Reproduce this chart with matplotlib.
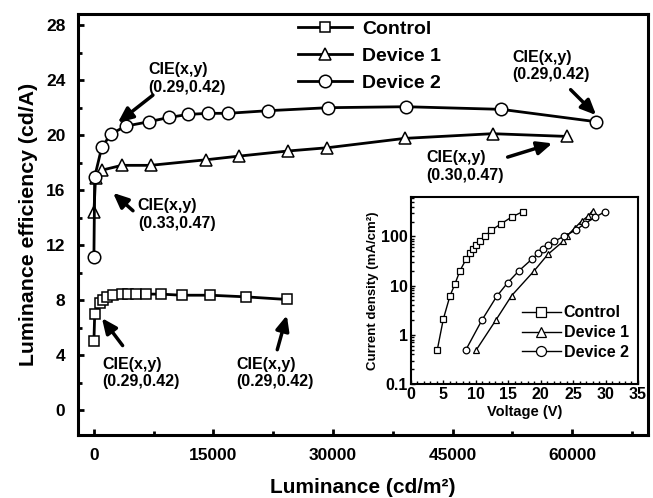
import numpy as np
import matplotlib
matplotlib.use("Agg")
import matplotlib.pyplot as plt
from matplotlib.ticker import MultipleLocator, FixedLocator, FixedFormatter

plt.rcParams['font.family'] = ['Liberation Sans', 'DejaVu Sans']
plt.rcParams['font.weight'] = 'bold'
plt.rcParams['axes.labelweight'] = 'bold'

# Eficiencia de luminancia vs luminancia (grafica principal)
lum_control = [0, 100, 750, 1200, 1700, 2400, 3500, 4300, 5300, 6500, 8400,
               11000, 14600, 19100, 24200]
ef_control = [5.0, 7.0, 7.76, 8.0, 8.24, 8.36, 8.44, 8.44, 8.44, 8.44, 8.44,
              8.36, 8.36, 8.24, 8.05]

lum_dev1 = [0, 200, 1000, 3500, 7100, 14000, 18200, 24300, 29300, 39000,
            50000, 59400]
ef_dev1 = [14.4, 16.85, 17.45, 17.8, 17.8, 18.2, 18.47, 18.84, 19.08, 19.76,
           20.1, 19.9]

lum_dev2 = [0, 100, 1000, 2200, 4000, 6900, 9400, 11800, 14300, 16800, 21800,
            29400, 39100, 51100, 63000]
ef_dev2 = [11.15, 16.97, 19.15, 20.1, 20.65, 20.97, 21.28, 21.5, 21.58, 21.58,
           21.77, 21.99, 22.06, 21.87, 20.97]

# Densidad de corriente vs voltaje (recuadro)
v_control = [4.06, 4.99, 6.0, 6.8, 7.55, 8.48, 9.1, 9.6, 10.1, 10.6, 11.4,
             12.4, 13.9, 15.5, 17.2]
j_control = [0.5, 2.1, 6.1, 11, 20, 34, 45, 56, 66, 80, 100, 134, 180, 246, 316]

v_dev1 = [10.1, 13.1, 15.5, 19.0, 21.1, 23.5, 24.0, 25.3, 26.3, 27.3, 28.0]
j_dev1 = [0.5, 2, 6.2, 20, 43, 80, 100, 150, 204, 257, 335]

v_dev2 = [8.48, 10.95, 13.2, 14.9, 16.65, 18.6, 19.6, 20.3, 21.2, 22.1, 23.6,
          25.4, 26.8, 28.4, 29.9]
j_dev2 = [0.5, 2, 6, 11.4, 20, 34, 45, 56, 66, 80, 100, 134, 180, 246, 316]

nombres = ["Control", "Device 1", "Device 2"]
marcadores = ["s", "^", "o"]

# Anotaciones CIE: (texto_x, texto_y, cola_x, cola_y, punta_x, punta_y, texto)
anotaciones = [
    (6770, 25.3, 7400, 22.9, 3000, 20.9, "CIE(x,y)\n(0.29,0.42)"),
    (5500, 15.4, 4900, 14.5, 2400, 15.8, "CIE(x,y)\n(0.33,0.47)"),
    (52500, 26.2, 59800, 23.3, 63000, 21.45, "CIE(x,y)\n(0.29,0.42)"),
    (41700, 18.9, 51900, 18.4, 57500, 19.4, "CIE(x,y)\n(0.30,0.47)"),
    (1000, 3.9, 3600, 4.7, 1000, 6.7, "CIE(x,y)\n(0.29,0.42)"),
    (17900, 3.9, 23000, 4.4, 24200, 6.9, "CIE(x,y)\n(0.29,0.42)"),
]

fig = plt.figure(figsize=(6.53, 4.98), dpi=100)
ax = fig.add_axes([0.1194, 0.1265, 0.8729, 0.8454])

datos = [(lum_control, ef_control), (lum_dev1, ef_dev1), (lum_dev2, ef_dev2)]
tamanos = [7.5, 8.5, 9]
for (x, y), nombre, m, ms in zip(datos, nombres, marcadores, tamanos):
    ax.plot(x, y, color='black', lw=2, marker=m, ms=ms, mfc='white',
            mec='black', mew=1.1, label=nombre)

ax.set_xlim(-2000, 69500)
ax.set_ylim(-1.8, 28.8)
ax.xaxis.set_major_locator(MultipleLocator(15000))
ax.xaxis.set_minor_locator(MultipleLocator(7500))
ax.yaxis.set_major_locator(MultipleLocator(4))
ax.yaxis.set_minor_locator(MultipleLocator(2))
ax.tick_params(which='both', direction='in', width=2, labelsize=12.5)
ax.tick_params(which='major', length=4)
ax.tick_params(which='minor', length=3)
ax.tick_params(axis='x', pad=9)
ax.tick_params(axis='y', pad=9)
for s in ax.spines.values():
    s.set_linewidth(2.2)

ax.set_xlabel("Luminance (cd/m²)", fontsize=15, labelpad=11)
ax.set_ylabel("Luminance efficiency (cd/A)", fontsize=15.3, labelpad=6)

ax.legend(loc='upper left', bbox_to_anchor=(0.386, 0.985), frameon=False,
          fontsize=14, handlelength=2.8, handletextpad=0.5, borderpad=0,
          borderaxespad=0, labelspacing=0.48)

for tx, ty, cx, cy, px, py, texto in anotaciones:
    ax.text(tx, ty, texto, fontsize=11.5, ha='left', va='top', linespacing=1.2)
    ax.annotate('', xy=(px, py), xytext=(cx, cy),
                arrowprops=dict(arrowstyle='-|>,head_length=0.9,head_width=0.4',
                                color='black', lw=2.5, shrinkA=0, shrinkB=0))

# Recuadro
ins = fig.add_axes([0.6294, 0.2289, 0.3476, 0.3755])
datos_ins = [(v_control, j_control), (v_dev1, j_dev1), (v_dev2, j_dev2)]
for (x, y), nombre, m in zip(datos_ins, nombres, marcadores):
    ins.plot(x, y, color='black', lw=1, marker=m, ms=4.8, mfc='white',
             mec='black', mew=0.9, label=nombre)
ins.set_yscale('log')
ins.set_xlim(0, 35)
ins.set_ylim(0.1, 630)
ins.xaxis.set_major_locator(MultipleLocator(5))
ins.xaxis.set_minor_locator(MultipleLocator(1))
ins.yaxis.set_major_locator(FixedLocator([0.1, 1, 10, 100]))
ins.yaxis.set_major_formatter(FixedFormatter(["0.1", "1", "10", "100"]))
ins.tick_params(which='both', direction='in', width=1, labelsize=11.5, pad=2)
ins.tick_params(which='major', length=3)
ins.tick_params(which='minor', length=2)
for s in ins.spines.values():
    s.set_linewidth(1.5)
ins.set_xlabel("Voltage (V)", fontsize=10.5, labelpad=2)
ins.set_ylabel("Current density (mA/cm²)", fontsize=9.5, labelpad=2)
ins.legend(loc='upper left', bbox_to_anchor=(0.49, 0.42), frameon=False,
           fontsize=11.5, handlelength=2.4, handletextpad=0.2, borderpad=0,
           borderaxespad=0, labelspacing=0.3, markerscale=1.5)

fig.savefig("out.png", dpi=100)
